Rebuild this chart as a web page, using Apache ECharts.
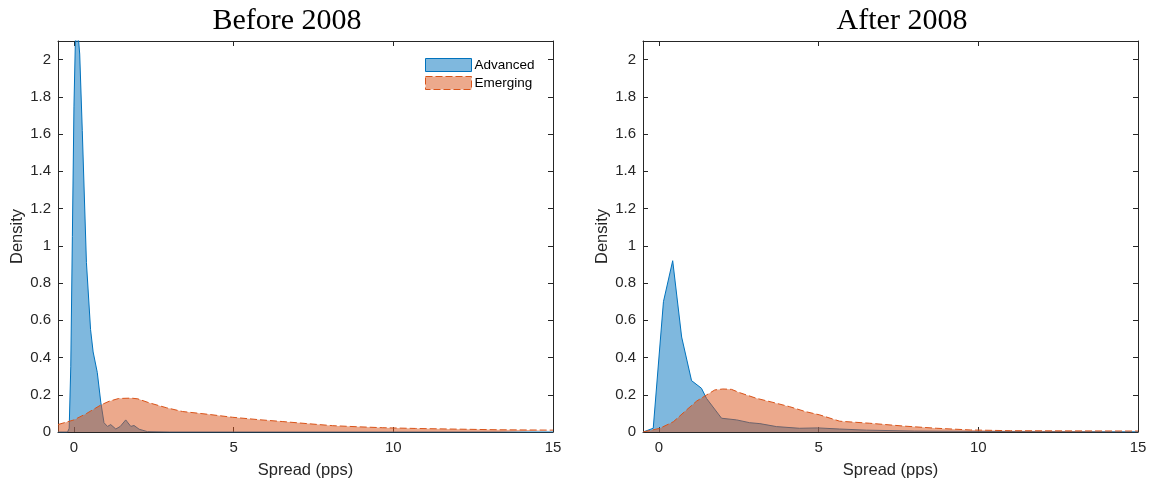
<!DOCTYPE html>
<html>
<head>
<meta charset="utf-8">
<script src="https://cdn.jsdelivr.net/npm/echarts@6/dist/echarts.min.js"></script>
<style>html,body{margin:0;padding:0;background:#fff;}#c{width:1152px;height:485px;}</style>
</head>
<body>
<div id="c"></div>
<script>
// ---- data ----
const titles = ['Before 2008', 'After 2008'];
const seriesNames = ['Advanced', 'Emerging'];
const xTicks = [0, 5, 10, 15];
const yTicks = [0, 0.2, 0.4, 0.6, 0.8, 1, 1.2, 1.4, 1.6, 1.8, 2];

const advBeforeX = [-0.5, -0.2, -0.15, -0.1, -0.05, 0.0, 0.05, 0.1, 0.18, 0.26, 0.39, 0.52, 0.6, 0.73, 0.84, 0.94, 1.05, 1.15, 1.31, 1.45, 1.62, 1.78, 1.88, 2.04, 2.3, 3, 5, 10, 15];
const advBeforeY = [0, 0, 0.02, 0.35, 1.05, 1.75, 2.15, 2.2, 2.03, 1.62, 0.91, 0.55, 0.43, 0.32, 0.16, 0.05, 0.03, 0.04, 0.016, 0.03, 0.065, 0.03, 0.035, 0.015, 0.002, 0, 0, 0, 0];

const emBeforeX = [-0.5, 0, 0.4, 0.84, 1.1, 1.4, 1.8, 2.0, 2.35, 2.9, 3.4, 4.2, 4.97, 5.8, 6.54, 7.3, 8.1, 8.9, 9.67, 10.7, 11.77, 13.3, 15];
const emBeforeY = [0.04, 0.065, 0.1, 0.145, 0.165, 0.18, 0.182, 0.178, 0.157, 0.13, 0.11, 0.095, 0.079, 0.066, 0.056, 0.045, 0.034, 0.028, 0.023, 0.019, 0.016, 0.012, 0.01];

const advAfterX = [-0.5, -0.18, 0.14, 0.43, 0.71, 1.02, 1.33, 1.49, 1.96, 2.43, 2.84, 3.16, 3.68, 4.4, 4.97, 5.66, 6.5, 8, 10, 12, 15];
const advAfterY = [0, 0.02, 0.70, 0.92, 0.51, 0.276, 0.235, 0.18, 0.074, 0.065, 0.05, 0.045, 0.029, 0.02, 0.022, 0.016, 0.01, 0.005, 0.003, 0.002, 0.001];

const emAfterX = [-0.5, 0.03, 0.45, 0.86, 1.18, 1.49, 1.75, 2.0, 2.27, 2.53, 3.05, 3.57, 4.09, 4.6, 5.03, 5.66, 6.6, 7.65, 8.7, 9.75, 11, 13, 15];
const emAfterY = [0, 0.02, 0.055, 0.118, 0.166, 0.199, 0.226, 0.231, 0.229, 0.211, 0.181, 0.159, 0.136, 0.109, 0.092, 0.058, 0.047, 0.032, 0.02, 0.011, 0.007, 0.006, 0.005];

const zip = (xs, ys) => xs.map((x, i) => [x, ys[i]]);

const AXC = '#262626';
const BLUE = '#0072BD';
const ORANGE = '#D95319';
const BLUE_FILL = 'rgba(0,114,189,0.5)';
const ORANGE_FILL = 'rgba(217,83,25,0.5)';
const FONT = 'Liberation Sans, Arial, sans-serif';

const grids = [
  { left: 58, top: 41, width: 495, height: 391 },
  { left: 643, top: 41, width: 495, height: 391 }
];

const xAxes = [], yAxes = [];
grids.forEach((g, gi) => {
  xAxes.push({
    type: 'value', gridIndex: gi, min: -0.5, max: 15, position: 'bottom',
    name: 'Spread (pps)', nameLocation: 'middle', nameGap: 30,
    nameTextStyle: { color: AXC, fontSize: 16.5, fontFamily: FONT },
    axisLine: { show: true, onZero: false, lineStyle: { color: AXC, width: 1 } },
    axisTick: { show: true, inside: true, length: 5, customValues: xTicks, lineStyle: { color: AXC } },
    axisLabel: { customValues: xTicks, color: AXC, fontSize: 15, fontFamily: FONT, margin: 8 },
    splitLine: { show: false }
  });
  xAxes.push({
    type: 'value', gridIndex: gi, min: -0.5, max: 15, position: 'top',
    axisLine: { show: true, onZero: false, lineStyle: { color: AXC, width: 1 } },
    axisTick: { show: true, inside: true, length: 5, customValues: xTicks, lineStyle: { color: AXC } },
    axisLabel: { show: false },
    splitLine: { show: false }
  });
  yAxes.push({
    type: 'value', gridIndex: gi, min: 0, max: 2.1, position: 'left',
    name: 'Density', nameLocation: 'middle', nameGap: 32, nameRotate: 90,
    nameTextStyle: { color: AXC, fontSize: 16.5, fontFamily: FONT },
    axisLine: { show: true, onZero: false, lineStyle: { color: AXC, width: 1 } },
    axisTick: { show: true, inside: true, length: 5, customValues: yTicks, lineStyle: { color: AXC } },
    axisLabel: { customValues: yTicks, color: AXC, fontSize: 15, fontFamily: FONT, margin: 7 },
    splitLine: { show: false }
  });
  yAxes.push({
    type: 'value', gridIndex: gi, min: 0, max: 2.1, position: 'right',
    axisLine: { show: true, onZero: false, lineStyle: { color: AXC, width: 1 } },
    axisTick: { show: true, inside: true, length: 5, customValues: yTicks, lineStyle: { color: AXC } },
    axisLabel: { show: false },
    splitLine: { show: false }
  });
});

function areaSeries(name, data, gi, isEm) {
  return {
    name: name, type: 'line', data: data,
    xAxisIndex: gi * 2, yAxisIndex: gi * 2,
    showSymbol: false, symbol: 'none', smooth: false, clip: true,
    z: isEm ? 3 : 2,
    lineStyle: isEm ? { color: ORANGE, width: 1, type: [7, 3] } : { color: BLUE, width: 1 },
    itemStyle: { color: isEm ? ORANGE : BLUE },
    areaStyle: { color: isEm ? ORANGE_FILL : BLUE_FILL, opacity: 1 },
    emphasis: { disabled: true },
    silent: true
  };
}

const option = {
  animation: false,
  backgroundColor: '#fff',
  title: [
    { text: titles[0], left: 282, top: 1, textAlign: 'center',
      textStyle: { fontFamily: 'Liberation Serif, Times New Roman, serif', fontSize: 30, fontWeight: 'normal', color: '#000' } },
    { text: titles[1], left: 897, top: 1, textAlign: 'center',
      textStyle: { fontFamily: 'Liberation Serif, Times New Roman, serif', fontSize: 30, fontWeight: 'normal', color: '#000' } }
  ],
  legend: {
    left: 420, top: 53, orient: 'vertical', itemGap: 4, itemWidth: 46, itemHeight: 13,
    textStyle: { fontFamily: FONT, fontSize: 13.5, color: '#000', padding: [0, 0, 0, -2] },
    selectedMode: false,
    data: [
      { name: seriesNames[0], icon: 'rect', itemStyle: { color: BLUE_FILL, borderColor: BLUE, borderWidth: 1 } },
      { name: seriesNames[1], icon: 'rect', itemStyle: { color: ORANGE_FILL, borderColor: ORANGE, borderWidth: 1, borderType: [7, 3] } }
    ]
  },
  grid: grids,
  xAxis: xAxes,
  yAxis: yAxes,
  series: [
    areaSeries(seriesNames[0], zip(advBeforeX, advBeforeY), 0, false),
    areaSeries(seriesNames[1], zip(emBeforeX, emBeforeY), 0, true),
    areaSeries(seriesNames[0], zip(advAfterX, advAfterY), 1, false),
    areaSeries(seriesNames[1], zip(emAfterX, emAfterY), 1, true)
  ]
};

const chart = echarts.init(document.getElementById('c'), null, { renderer: 'canvas' });
chart.setOption(option);
</script>
</body>
</html>
